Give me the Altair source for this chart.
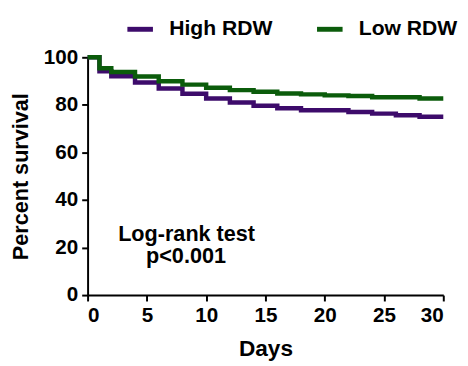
import altair as alt
import pandas as pd

# Kaplan-Meier step values
high_days = [0, 1, 2, 4, 6, 8, 10, 12, 14, 16, 18, 22, 24, 26, 28, 30]
high_pct = [100, 94.1, 92.0, 89.4, 86.9, 84.7, 82.7, 81.0, 79.6, 78.6, 77.7, 77.0, 76.3, 75.6, 75.0, 75.0]

low_days = [0, 1, 2, 4, 6, 8, 10, 12, 14, 16, 18, 20, 22, 24, 28, 30]
low_pct = [100, 95.4, 93.8, 91.9, 89.9, 88.5, 87.2, 86.2, 85.5, 84.8, 84.4, 84.0, 83.7, 83.2, 82.7, 82.7]

groups = ["High RDW", "Low RDW"]
colors = ["#3d0b6b", "#0b5c0b"]
x_ticks = [0, 5, 10, 15, 20, 25, 30]
y_ticks = [0, 20, 40, 60, 80, 100]
annot_lines = ["Log-rank test", "p<0.001"]

high_df = pd.DataFrame({"day": high_days, "pct": high_pct, "group": groups[0]})
low_df = pd.DataFrame({"day": low_days, "pct": low_pct, "group": groups[1]})

FONT = "Liberation Sans"

x_enc = alt.X(
    "day:Q",
    scale=alt.Scale(domain=[0, 30], nice=False),
    axis=alt.Axis(values=x_ticks, title="Days", titleFontSize=23, titlePadding=12),
)
y_enc = alt.Y(
    "pct:Q",
    scale=alt.Scale(domain=[0, 100], nice=False),
    axis=alt.Axis(values=y_ticks, title="Percent survival", titleFontSize=22, titlePadding=11),
)
color_enc = alt.Color(
    "group:N",
    scale=alt.Scale(domain=groups, range=colors),
    legend=alt.Legend(
        title=None,
        orient="none",
        direction="horizontal",
        legendX=38,
        legendY=-44,
        symbolType="stroke",
        symbolSize=676,
        symbolStrokeWidth=5,
        labelFont=FONT,
        labelFontSize=21.5,
        labelFontWeight="bold",
        labelColor="black",
        labelOffset=14,
        columnPadding=34,
        padding=0,
    ),
)

high_line = alt.Chart(high_df).mark_line(interpolate="step-after", strokeWidth=4.5).encode(
    x=x_enc, y=y_enc, color=color_enc
)
low_line = alt.Chart(low_df).mark_line(interpolate="step-after", strokeWidth=4.5).encode(
    x=x_enc, y=y_enc, color=color_enc
)

annot1 = alt.Chart(pd.DataFrame({"t": [annot_lines[0]]})).mark_text(
    font=FONT, fontSize=22, fontWeight="bold", color="black",
    align="center", baseline="alphabetic",
).encode(x=alt.datum(8.35), y=alt.datum(22.9), text="t:N")
annot2 = alt.Chart(pd.DataFrame({"t": [annot_lines[1]]})).mark_text(
    font=FONT, fontSize=22, fontWeight="bold", color="black",
    align="center", baseline="alphabetic",
).encode(x=alt.datum(8.3), y=alt.datum(13.6), text="t:N")

chart = (
    alt.layer(high_line, low_line, annot1, annot2)
    .properties(
        width=362,
        height=242,
        autosize=alt.AutoSizeParams(type="none"),
        padding={"left": 81, "top": 47, "right": 17, "bottom": 69},
        background="white",
    )
    .configure_view(stroke=None)
    .configure_axis(
        grid=False,
        domainColor="black",
        domainWidth=2,
        tickColor="black",
        tickWidth=2,
        tickSize=6,
        labelFont=FONT,
        labelFontSize=21,
        labelFontWeight="bold",
        labelColor="black",
        labelPadding=4,
        titleFont=FONT,
        titleFontWeight="bold",
        titleColor="black",
    )
)

chart.save("out.html", embed_options={"renderer": "svg", "actions": False})
